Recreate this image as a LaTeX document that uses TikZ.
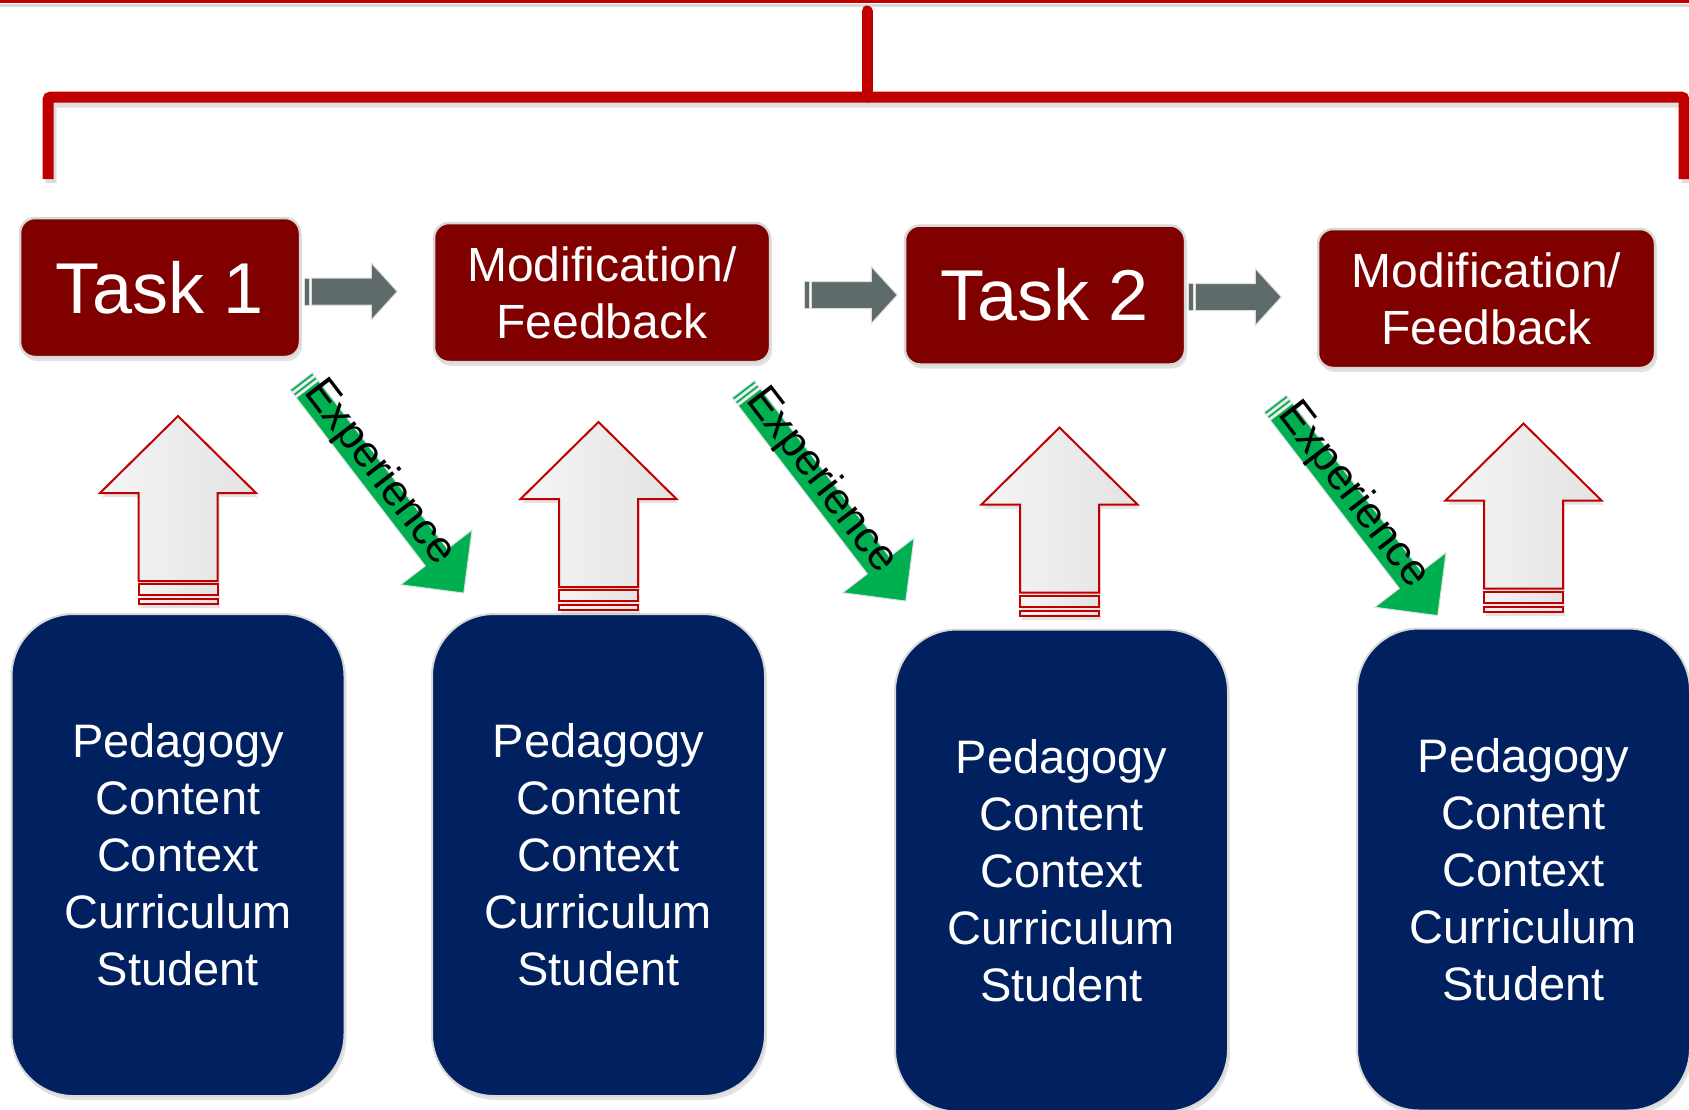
\documentclass[tikz,border=0pt]{standalone}
\usepackage{fontspec}
\setmainfont{Liberation Sans}
\usetikzlibrary{calc,shadows}

\definecolor{taskred}{HTML}{800000}
\definecolor{linered}{HTML}{C00000}
\definecolor{boxblue}{HTML}{002060}
\definecolor{arrowgray}{HTML}{5F6B6B}
\definecolor{expgreen}{HTML}{00B050}

\tikzset{
  softshadow/.style={drop shadow={opacity=0.22, shadow xshift=2pt, shadow yshift=-4pt}},
  task/.style={rectangle, rounded corners=15, fill=taskred, draw=black!15, line width=2.5,
    text=white, align=center, inner sep=0, minimum height=139, softshadow},
  factor/.style={rectangle, rounded corners=62, fill=boxblue, draw=black!15, line width=2,
    text=white, align=center, minimum width=333, minimum height=482, softshadow,
    font=\fontsize{47}{57}\selectfont},
  bracket/.style={linered, line width=11, rounded corners=3},
  uparrow/.style={left color=black!4, right color=black!11, draw=linered, line width=2, softshadow},
  grayblock/.style={fill=arrowgray, draw=black!14, line width=1},
  greenblock/.style={fill=expgreen, draw=black!12, line width=1},
  exptext/.style={font=\fontsize{44}{44}\selectfont, inner sep=0}
}

% block arrows, drawn from a start point
\newcommand{\grayarrow}[1]{%
  \begin{scope}[shift={#1}]
    \path[grayblock] (0,-13.5) rectangle (5,13.5);
    \path[grayblock] (7,-13.5) -- (67,-13.5) -- (67,-28.5) -- (93,0) -- (67,28.5) -- (67,13.5) -- (7,13.5) -- cycle;
  \end{scope}}
\newcommand{\uparr}[1]{%
  \begin{scope}[shift={#1}]
    \path[uparrow] (0,0) -- (78,77) -- (39.5,77) -- (39.5,165) -- (-39.5,165) -- (-39.5,77) -- (-78,77) -- cycle;
    \path[uparrow] (-39.5,168) rectangle (39.5,179);
    \path[uparrow] (-39.5,183) rectangle (39.5,188);
  \end{scope}}
\newcommand{\exparrow}[1]{%
  \begin{scope}[shift={#1}, rotate=-52.5]
    \path[greenblock] (0,-14) rectangle (3,14);
    \path[greenblock] (5,-14) rectangle (8,14);
    \path[greenblock] (10,-14) -- (222,-14) -- (222,-45) -- (267,0) -- (222,45) -- (222,14) -- (10,14) -- cycle;
    \node[exptext, rotate=-52.5] at (120,-6) {Experience};
  \end{scope}}

\begin{document}
\begin{tikzpicture}[x=1pt, y=-1pt]
  \clip (0,0) rectangle (1689,1109);

  % red bracket on top
  \draw[black!15, line width=3] (0,5) -- (1689,5);
  \draw[linered, line width=3] (0,1.5) -- (1689,1.5);
  \coordinate (stem) at (867,11);
  \coordinate (legl) at (48,179);
  \coordinate (legr) at (1684,179);
  \draw[bracket, black!13] ($(legl)+(3,4)$) -- ++(0,-81) -| ($(legr)+(3,4)$);
  \draw[bracket, line cap=round] (stem) -- (stem |- 0,97);
  \draw[bracket] (legl) -- ++(0,-82) -| (legr);

  % tasks
  \node[task, minimum width=280, font=\fontsize{72}{80}\selectfont] (t1) at (160,287.5) {Task 1};
  \node[task, minimum width=336, font=\fontsize{48}{57}\selectfont] (m1) at (602,292.5) {Modification/\\Feedback};
  \node[task, minimum width=280, font=\fontsize{72}{80}\selectfont] (t2) at (1045,295) {Task 2};
  \node[task, minimum width=337, font=\fontsize{48}{57}\selectfont] (m2) at (1486.5,298.5) {Modification/\\Feedback};

  \grayarrow{($(t1.east)+(3,4)$)}
  \grayarrow{($(m1.east)+(33,2.5)$)}
  \grayarrow{($(t2.east)+(2,2)$)}

  % factors
  \node[factor] (b1) at (178,855) {Pedagogy\\Content\\Context\\Curriculum\\Student};
  \node[factor] (b2) at (598.5,855) {Pedagogy\\Content\\Context\\Curriculum\\Student};
  \node[factor] (b3) at (1061.5,870.5) {Pedagogy\\Content\\Context\\Curriculum\\Student};
  \node[factor] (b4) at (1523.5,869.5) {Pedagogy\\Content\\Context\\Curriculum\\Student};

  \uparr{($(b1.north)+(0,-197)$)}
  \uparr{($(b2.north)+(0,-191)$)}
  \uparr{($(b3.north)+(-2,-201)$)}
  \uparr{($(b4.north)+(0,-204)$)}

  \exparrow{($(t1.south east)+(0,23)$)}
  \exparrow{($(m1.south east)+(-28,26)$)}
  \exparrow{($(t2.south east)+(89,38)$)}
\end{tikzpicture}
\end{document}
